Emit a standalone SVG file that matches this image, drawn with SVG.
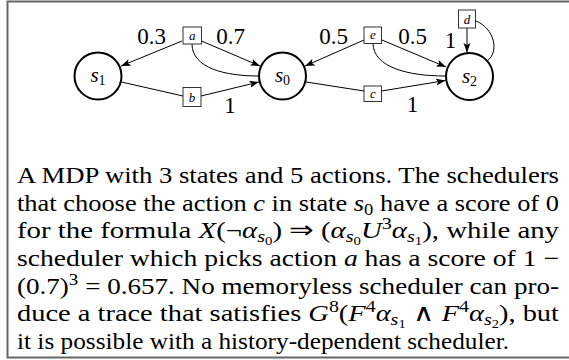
<svg xmlns="http://www.w3.org/2000/svg" width="569" height="360" viewBox="0 0 569 360" font-family="'Liberation Serif', serif">
<style>
text{font-family:'Liberation Serif', serif;fill:#000}
.i{font-style:italic}
.st{fill:#fff;stroke:#000;stroke-width:2}
.bx{fill:#fff;stroke:#333;stroke-width:1}
.e{fill:none;stroke:#000;stroke-width:1}
.ea{marker-end:url(#ah)}
.cap{font-size:23.5px}
.lb{font-size:23px;text-anchor:middle}
.sl{font-size:21px;text-anchor:middle}
.bl{font-size:13px;text-anchor:middle;font-style:italic}
</style>
<defs>
<marker id="ah" markerUnits="userSpaceOnUse" markerWidth="10" markerHeight="8" refX="9.5" refY="3.5" orient="auto">
<path d="M0,0 L9.5,3.5 L0,7 L2,3.5 z" fill="#000"/>
</marker>
</defs>
<rect x="7.5" y="1.5" width="580" height="356" fill="#fff" stroke="#666" stroke-width="2"/>
<g id="connectors">
<line class="e ea" x1="182" y1="41" x2="121" y2="66"/>
<line class="e ea" x1="201.5" y1="41" x2="260" y2="66"/>
<path class="e" d="M192,44 C192,68 225,76 258.5,76"/>
<line class="e" x1="121.5" y1="82" x2="183" y2="96"/>
<line class="e ea" x1="201" y1="96" x2="259" y2="82"/>
<line class="e ea" x1="364" y1="40" x2="305" y2="66"/>
<line class="e ea" x1="382" y1="40" x2="446" y2="67"/>
<path class="e" d="M373,43 C373,68 410,76 445,76"/>
<line class="e" x1="306" y1="82" x2="364" y2="91"/>
<line class="e ea" x1="381.5" y1="91" x2="445.5" y2="80.5"/>
<line class="e ea" x1="467" y1="28" x2="467" y2="52.5"/>
<path class="e" d="M476,21 C494,28 500,52 487,61"/>
</g>
<g id="s1"><circle class="st" cx="98" cy="76" r="23.5"/><text class="sl" x="98" y="82"><tspan class="i">s</tspan><tspan font-size="14" dy="3">1</tspan></text></g>
<g id="s0"><circle class="st" cx="282.5" cy="76" r="23.5"/><text class="sl" x="282.5" y="82"><tspan class="i">s</tspan><tspan font-size="14" dy="3">0</tspan></text></g>
<g id="s2"><circle class="st" cx="469.5" cy="76.5" r="23.5"/><text class="sl" x="469.5" y="82.5"><tspan class="i">s</tspan><tspan font-size="14" dy="3">2</tspan></text></g>
<g id="a"><rect class="bx" x="183" y="27" width="18.5" height="17"/><text class="bl" x="192.2" y="39.5">a</text></g>
<g id="b"><rect class="bx" x="183" y="87.5" width="18" height="19"/><text class="bl" x="192" y="101.5">b</text></g>
<g id="c"><rect class="bx" x="364" y="86" width="17.5" height="15.5"/><text class="bl" x="372.8" y="97.5">c</text></g>
<g id="e"><rect class="bx" x="364" y="27" width="17.5" height="16.5"/><text class="bl" x="372.8" y="39">e</text></g>
<g id="d"><rect class="bx" x="458.5" y="10" width="17" height="18"/><text class="bl" x="467" y="23.5">d</text></g>
<g id="labels">
<text class="lb" x="151.5" y="44">0.3</text>
<text class="lb" x="230.5" y="44">0.7</text>
<text class="lb" x="230" y="113">1</text>
<text class="lb" x="333.5" y="44">0.5</text>
<text class="lb" x="412.5" y="44">0.5</text>
<text class="lb" x="412.5" y="112">1</text>
<text class="lb" x="450.5" y="48">1</text>
</g>
<g id="caption">
<text class="cap" x="17" y="183" textLength="542" lengthAdjust="spacingAndGlyphs">A MDP with 3 states and 5 actions. The schedulers</text>
<text class="cap" x="17" y="210.7" textLength="542" lengthAdjust="spacingAndGlyphs">that choose the action <tspan class="i">c</tspan> in state <tspan class="i">s</tspan><tspan font-size="16.5" dy="4">0</tspan><tspan dy="-4"> have a score of 0</tspan></text>
<text class="cap" x="17" y="238.3" textLength="542" lengthAdjust="spacingAndGlyphs">for the formula <tspan class="i">X</tspan>(¬<tspan class="i">α</tspan><tspan class="i" font-size="16.5" dy="4">s</tspan><tspan font-size="12" dy="3">0</tspan><tspan dy="-7">) ⇒ (</tspan><tspan class="i">α</tspan><tspan class="i" font-size="16.5" dy="4">s</tspan><tspan font-size="12" dy="3">0</tspan><tspan class="i" dy="-7">U</tspan><tspan font-size="16.5" dy="-9">3</tspan><tspan class="i" dy="9">α</tspan><tspan class="i" font-size="16.5" dy="4">s</tspan><tspan font-size="12" dy="3">1</tspan><tspan dy="-7">), while any</tspan></text>
<text class="cap" x="17" y="266" textLength="542" lengthAdjust="spacingAndGlyphs">scheduler which picks action <tspan class="i">a</tspan> has a score of 1 −</text>
<text class="cap" x="17" y="293.7" textLength="542" lengthAdjust="spacingAndGlyphs">(0.7)<tspan font-size="16.5" dy="-9">3</tspan><tspan dy="9"> = 0.657. No memoryless scheduler can pro-</tspan></text>
<text class="cap" x="17" y="321.3" textLength="542" lengthAdjust="spacingAndGlyphs">duce a trace that satisfies <tspan class="i">G</tspan><tspan font-size="16.5" dy="-9">8</tspan><tspan dy="9">(</tspan><tspan class="i">F</tspan><tspan font-size="16.5" dy="-9">4</tspan><tspan class="i" dy="9">α</tspan><tspan class="i" font-size="16.5" dy="4">s</tspan><tspan font-size="12" dy="3">1</tspan><tspan dy="-7"> ∧ </tspan><tspan class="i">F</tspan><tspan font-size="16.5" dy="-9">4</tspan><tspan class="i" dy="9">α</tspan><tspan class="i" font-size="16.5" dy="4">s</tspan><tspan font-size="12" dy="3">2</tspan><tspan dy="-7">), but</tspan></text>
<text class="cap" x="17" y="349" textLength="492" lengthAdjust="spacingAndGlyphs">it is possible with a history-dependent scheduler.</text>
</g>
</svg>
